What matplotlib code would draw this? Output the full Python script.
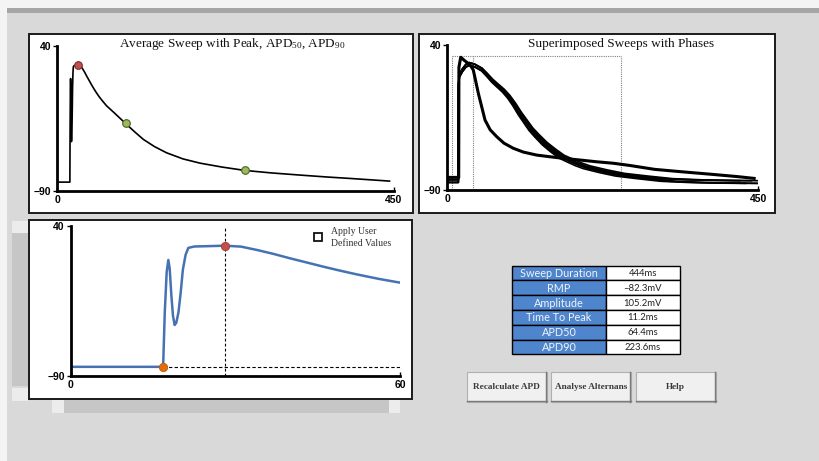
import matplotlib
matplotlib.use("Agg")
import matplotlib.pyplot as plt
from matplotlib.patches import Rectangle
import numpy as np

plt.rcParams['mathtext.fontset'] = 'custom'
plt.rcParams['mathtext.rm'] = 'Liberation Serif'
plt.rcParams['mathtext.it'] = 'Liberation Serif:italic'

W, H = 819, 461

# ---------------- data ----------------
# average sweep (ms, mV)
avg_t = [0, 16.8, 17.1, 17.45, 17.75, 18.0, 18.3, 18.6, 18.9, 19.2, 19.6, 20.0, 20.4,
         20.9, 21.4, 22.5, 25.0, 28.0, 31.0, 33.9, 36.9, 39.9, 43.0, 46.0, 49.0, 52.1,
         56.0, 60.0, 66.0, 75.0, 91.2, 103.0, 115.0, 130.0, 146.0, 168.0, 190.8, 220.0,
         250.4, 285.0, 324.5, 360.0, 391.0, 420.0, 444.0]
avg_v = [-82.3, -82.3, -35, 0, 10.5, 3, -20, -38, -46, -44, -35, -18, 2,
         15, 21, 22.2, 22.5, 22.9, 22.1, 19.2, 15.8, 12.0, 8.3, 4.7, 1.3, -2.0,
         -5.8, -9.2, -14, -19.5, -29.7, -37, -44, -50.5, -56, -61.5, -65.3, -68.8,
         -71.8, -74, -76, -77.7, -79, -80.3, -81.4]

rmp_mv = -82.3
upstroke_ms = 16.8
peak_ms, peak_mv = 28.0, 22.9
apd50_ms, apd50_mv = 91.2, -29.7
apd90_ms, apd90_mv = 250.4, -71.8

# superimposed sweeps: one short (alternans) sweep and a bundle of long sweeps
short_t = [0, 16.5, 16.8, 19.4, 25, 32.8, 37.6, 44.9, 54.6, 62, 71.5, 82, 95.5, 110,
           129.4, 150, 167.9, 190, 216.2, 240, 264, 300, 340, 380, 420, 444]
short_v = [-78.7, -78.7, 20, 29, 26, 22.3, 17.6, -3.3, -27.3, -36, -42.2, -48, -52.6, -56,
           -58.7, -60.3, -61.6, -63, -64.7, -66, -68, -71.5, -73.7, -75.8, -78, -79.6]

long_t = [0, 16.0, 16.3, 17.5, 22, 27, 32, 40, 50, 57, 65, 73, 81, 89, 97, 105, 113,
          121, 129.4, 141, 153.4, 165, 177.6, 190, 201.7, 225.8, 250, 280, 317.5, 360,
          400, 444]
long_v = [-81.5, -81.5, 5, 13, 18, 22, 23.5, 22, 18.5, 14, 8.5, 4, -0.4, -6, -13, -21,
          -28, -35, -40.7, -48, -54.2, -59.5, -63.1, -66.5, -69.1, -72.7, -75.8, -78,
          -80.5, -81.6, -82.1, -82.4]
# per-sweep repolarisation stretch (relative to peak) and resting offset of the bundle
long_peak_ms = 32
long_stretch = [0.95, 0.97, 0.99, 1.01, 1.03, 1.05]
long_offset_mv = [0.7, -1.7, 0.7, -1.7, 0.7, -1.7]

phase_bounds_ms = [6.4, 37.6, 251.0]
phase_top_mv = 29.9

table_labels = ["Sweep Duration", "RMP", "Amplitude", "Time To Peak", "APD50", "APD90"]
table_values = ["444ms", "\u201382.3mV", "105.2mV", "11.2ms", "64.4ms", "223.6ms"]
button_labels = ["Recalculate APD", "Analyse Alternans", "Help"]

# ---------------- helpers ----------------
fig = plt.figure(figsize=(W / 100, H / 100), dpi=100, facecolor='#f4f4f4')


def rect(x0, y0, x1, y1, z=-5, **kw):
    fig.add_artist(Rectangle((x0 / W, 1 - y1 / H), (x1 - x0) / W, (y1 - y0) / H,
                             transform=fig.transFigure, zorder=z, **kw))


def hline(x0, x1, y, z=-3, **kw):
    fig.add_artist(plt.Line2D([x0 / W, x1 / W], [1 - y / H, 1 - y / H],
                              transform=fig.transFigure, zorder=z, **kw))


def vline(x, y0, y1, z=-3, **kw):
    fig.add_artist(plt.Line2D([x / W, x / W], [1 - y0 / H, 1 - y1 / H],
                              transform=fig.transFigure, zorder=z, **kw))


def add_ax(x0, ytop, x1, ybot):
    ax = fig.add_axes([x0 / W, 1 - ybot / H, (x1 - x0) / W, (ybot - ytop) / H])
    ax.patch.set_alpha(0)
    return ax


def ftext(x, y, s, **kw):
    fig.text(x / W, 1 - y / H, s, **kw)


def style(ax, xmax, xlab):
    ax.set_xlim(0, xmax)
    ax.set_ylim(-90, 40)
    for s in ['top', 'right']:
        ax.spines[s].set_visible(False)
    for s in ['left', 'bottom']:
        ax.spines[s].set_linewidth(2)
        ax.spines[s].set_color('black')
    ax.set_xticks([0, xmax])
    ax.set_xticklabels(['0', xlab])
    ax.set_yticks([-90, 40])
    ax.set_yticklabels(['\u221290', '40'])
    ax.tick_params(axis='y', direction='out', length=3, width=1, pad=1.5)
    ax.tick_params(axis='x', direction='in', length=3, width=1, pad=3)
    for lbl in ax.get_xticklabels() + ax.get_yticklabels():
        lbl.set_fontweight('bold')
        lbl.set_family('Liberation Sans')
        lbl.set_fontsize(7.5)


# ---------------- background ----------------
rect(7, 12, W, H, z=-10, facecolor='#d9d9d9', edgecolor='none')
rect(7, 8, W, 13, z=-9, facecolor='#a6a6a6', edgecolor='none')

# scrollbars
rect(12, 221, 28, 233, facecolor='#ececec', edgecolor='none')
rect(12, 233, 28, 386, facecolor='#c6c6c6', edgecolor='none')
rect(12, 388, 28, 401, facecolor='#ececec', edgecolor='none')
rect(52, 400, 64, 413, facecolor='#ececec', edgecolor='none')
rect(64, 400, 389, 413, facecolor='#c6c6c6', edgecolor='none')
rect(389, 400, 400, 413, facecolor='#ececec', edgecolor='none')

# panel frames
rect(29, 34, 413, 213, facecolor='white', edgecolor='#1a1a1a', linewidth=1.4)
rect(419, 34, 775, 213, facecolor='white', edgecolor='#1a1a1a', linewidth=1.4)
rect(29, 220, 412, 399, facecolor='white', edgecolor='#1a1a1a', linewidth=1.4)

# ---------------- panel 1 ----------------
ax1 = add_ax(57.3, 45.7, 394, 190.7)
style(ax1, 450, '450')
ax1.plot(avg_t, avg_v, color='black', lw=1.2, zorder=2)
ax1.plot([peak_ms], [peak_mv], 'o', ms=5.5, mfc='#c0504d', mec='#7f2a27', mew=0.8, zorder=3)
ax1.plot([apd50_ms, apd90_ms], [apd50_mv, apd90_mv], 'o', ms=5.5, mfc='#9bbb59',
         mec='#4f6228', mew=0.8, zorder=3)
ftext(232, 44, 'Average Sweep with Peak, APD$_{50}$, APD$_{90}$', family='Liberation Serif',
      fontsize=9.5, ha='center', va='center', color='#111111')

# ---------------- panel 2 ----------------
ax2 = add_ax(447.3, 45, 758.3, 190)
style(ax2, 450, '450')
lt = np.array(long_t, dtype=float)
lv = np.array(long_v, dtype=float)
for k, dv in zip(long_stretch, long_offset_mv):
    ts = np.where(lt > long_peak_ms, long_peak_ms + (lt - long_peak_ms) * k, lt)
    ax2.plot(ts, lv + dv, color='black', lw=1.2, zorder=2)
ax2.plot(short_t, short_v, color='black', lw=2.2, zorder=2)
for b in phase_bounds_ms:
    ax2.plot([b, b], [-90, phase_top_mv], color='#808080', lw=0.8, ls=(0, (1, 1)), zorder=1)
ax2.plot([phase_bounds_ms[0], phase_bounds_ms[-1]], [phase_top_mv, phase_top_mv],
         color='#808080', lw=0.8, ls=(0, (1, 1)), zorder=1)
ftext(621, 43.5, 'Superimposed Sweeps with Phases', family='Liberation Serif',
      fontsize=9.5, ha='center', va='center', color='#111111')

# ---------------- panel 3 ----------------
ax3 = add_ax(71, 226, 400, 375.7)
style(ax3, 60, '60')
ax3.plot(avg_t, avg_v, color='#4672b4', lw=1.8, zorder=2)
ax3.plot([upstroke_ms, 60], [rmp_mv, rmp_mv], color='black', lw=0.8, ls=(0, (3, 2)), zorder=1)
ax3.plot([peak_ms, peak_ms], [-90, 40], color='black', lw=0.8, ls=(0, (2.5, 2)), zorder=1)
ax3.plot([peak_ms], [peak_mv], 'o', ms=6, mfc='#c0504d', mec='#a33c39', mew=0.6, zorder=3)
ax3.plot([upstroke_ms], [rmp_mv], 'o', ms=6, mfc='#e46c0a', mec='#c05a08', mew=0.6, zorder=3)

rect(313.5, 232.8, 322, 241, z=5, facecolor='white', edgecolor='#111111', linewidth=1.3)
ftext(331, 231, 'Apply User', family='Liberation Serif', fontsize=7, ha='left',
      va='center', color='#333333')
ftext(331, 243.5, 'Defined Values', family='Liberation Serif', fontsize=7, ha='left',
      va='center', color='#333333')

# ---------------- table ----------------
tx0, tx1, tx2 = 512.3, 605.7, 680
ty0, ty1 = 265.7, 354.3
rh = (ty1 - ty0) / len(table_labels)
for i, (lab, val) in enumerate(zip(table_labels, table_values)):
    y0 = ty0 + i * rh
    rect(tx0, y0, tx1, y0 + rh, z=-4, facecolor='#4f85cc', edgecolor='black', linewidth=1)
    rect(tx1, y0, tx2, y0 + rh, z=-4, facecolor='white', edgecolor='black', linewidth=1)
    ftext((tx0 + tx1) / 2, y0 + rh / 2 + 0.5, lab, family='Lato', fontsize=7.8,
          ha='center', va='center', color='#eef3fa')
    ftext((tx1 + tx2) / 2, y0 + rh / 2 + 0.5, val, family='Lato', fontsize=6.8,
          ha='center', va='center', color='#222222')

# ---------------- buttons ----------------
btns = [(466.7, 546.7), (551, 630.7), (635.7, 715.7)]
for (bx0, bx1), lab in zip(btns, button_labels):
    rect(bx0, 371.7, bx1, 401.7, z=-4, facecolor='#f0f0f0', edgecolor='#b0b0b0', linewidth=0.8)
    hline(bx0, bx1, 401.3, color='#7a7a7a', lw=1.0)
    vline(bx1 - 0.3, 371.7, 401.7, color='#7a7a7a', lw=1.0)
    ftext((bx0 + bx1) / 2, 386.7, lab, family='Liberation Serif', fontsize=6.7,
          fontweight='bold', ha='center', va='center', color='#3a3a3a')

fig.savefig('out.png', dpi=100, facecolor=fig.get_facecolor())
